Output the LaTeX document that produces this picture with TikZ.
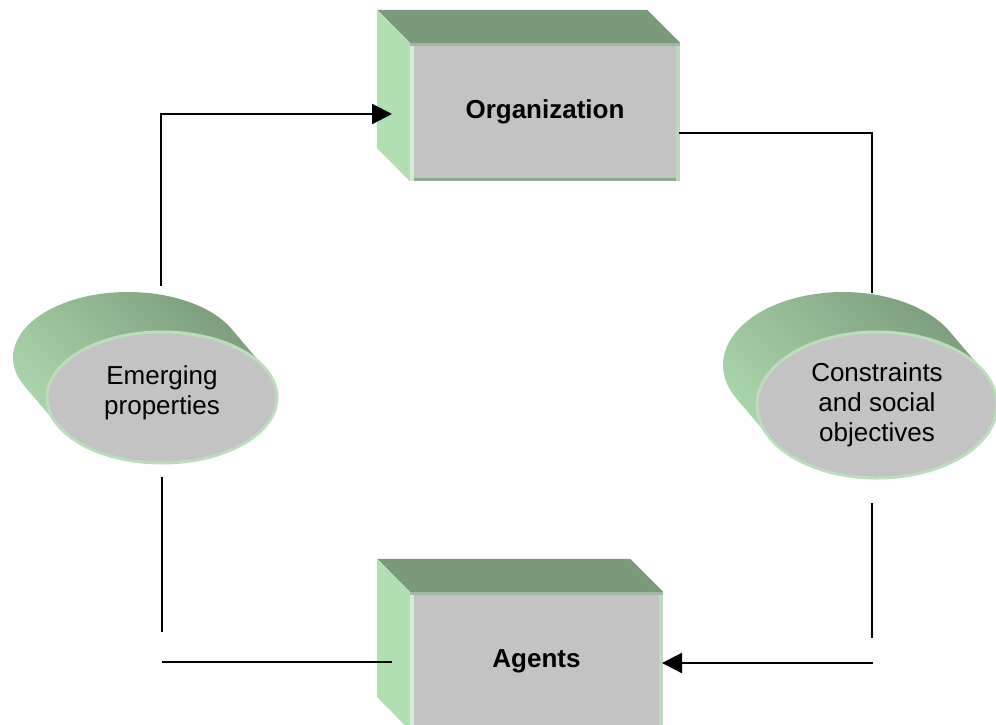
\documentclass[tikz,border=0pt]{standalone}
\usepackage{fontspec}
\setmainfont{Liberation Sans}
\usetikzlibrary{arrows.meta,shapes.geometric}
\definecolor{sidegreen}{RGB}{177,223,177}
\definecolor{topgreen}{RGB}{122,154,122}
\definecolor{frontgray}{RGB}{195,195,195}
\definecolor{topstrip}{RGB}{163,184,163}
\definecolor{leftstrip}{RGB}{212,236,212}
\definecolor{rightstrip}{RGB}{191,217,191}
\definecolor{bottomstrip}{RGB}{141,170,141}
\definecolor{extlight}{RGB}{176,220,176}
\definecolor{extdark}{RGB}{120,152,120}
\definecolor{ellborder}{RGB}{188,221,188}
\begin{document}
\begin{tikzpicture}[x=1pt,y=-1pt,
  frontbox/.style={rectangle, fill=frontgray, inner sep=0pt, font=\fontsize{26pt}{31pt}\selectfont\bfseries},
  topface/.style={fill=topgreen},
  sideface/.style={fill=sidegreen},
  extr/.style={top color=extlight, bottom color=extdark, shading angle=135},
  frontell/.style={ellipse, fill=frontgray, draw=ellborder, line width=3pt, inner sep=0pt, align=center, font=\fontsize{26pt}{30pt}\selectfont},
  conn/.style={line width=2.2pt, black},
  tip/.style={-{Triangle[length=20pt,width=20pt]}}
]
\useasboundingbox (0,0) rectangle (996,724);

% ---------- Organization box ----------
\node[frontbox, minimum width=270pt, minimum height=138pt] (org) at (545,112) {Organization};
\fill[topface] (org.north east) -- ++(-33,-33) -- ++(-270,0) -- (org.north west) -- cycle;
\fill[sideface] (org.north west) -- ++(-33,-33) -- ++(0,138) -- (org.south west) -- cycle;
\fill[topstrip] (org.north west) rectangle ++(270,3);
\fill[leftstrip] (org.north west) ++(0,3) rectangle ++(4,135);
\fill[rightstrip] (org.north east) ++(-4,3) rectangle ++(4,135);
\fill[bottomstrip] (org.south west) ++(4,-3) rectangle ++(262,3);

% ---------- Agents box ----------
\node[frontbox, minimum width=253pt, minimum height=138pt] (ag) at (536.5,661) {Agents};
\fill[topface] (ag.north east) -- ++(-33,-33) -- ++(-253,0) -- (ag.north west) -- cycle;
\fill[sideface] (ag.north west) -- ++(-33,-33) -- ++(0,138) -- (ag.south west) -- cycle;
\fill[topstrip] (ag.north west) rectangle ++(253,3);
\fill[leftstrip] (ag.north west) ++(0,3) rectangle ++(4,135);
\fill[rightstrip] (ag.north east) ++(-4,3) rectangle ++(4,135);

% ---------- Emerging properties ----------
\shade[extr] (24.5,386) arc[start angle=154.2, end angle=334.2, x radius=115, y radius=65.5]
  -- (265.5,369) arc[start angle=-25.8, end angle=154.2, x radius=115, y radius=65.5] -- cycle;
\node[frontell, minimum width=230pt, minimum height=131pt, text depth=14pt] (emg) at (162,397.5) {Emerging\\properties};

% ---------- Constraints and social objectives ----------
\shade[extr] (736.4,398.5) arc[start angle=152.7, end angle=332.7, x radius=120, y radius=73]
  -- (983.6,371.5) arc[start angle=-27.3, end angle=152.7, x radius=120, y radius=73] -- cycle;
\node[frontell, minimum width=240pt, minimum height=146pt] (cso) at (877,405) {Constraints\\and social\\objectives};

% ---------- connectors ----------
\coordinate (emgtop) at (161,286);
\coordinate (orgin) at (392,114);
\draw[conn,tip] (emgtop) |- (orgin);

\coordinate (orgout) at (679,133);
\coordinate (csotop) at (872,293);
\draw[conn] (orgout) -| (csotop);

\coordinate (csobot) at (872,503);
\coordinate (csoend) at (872,638);
\draw[conn] (csobot) -- (csoend);
\coordinate (agfrom) at (873,663);
\coordinate (agin) at (662,663);
\draw[conn,tip] (agfrom) -- (agin);

\coordinate (emgbot) at (162,477);
\coordinate (emgend) at (162,632);
\draw[conn] (emgbot) -- (emgend);
\coordinate (agleft) at (162,662);
\coordinate (agside) at (392,662);
\draw[conn] (agleft) -- (agside);
\end{tikzpicture}
\end{document}
